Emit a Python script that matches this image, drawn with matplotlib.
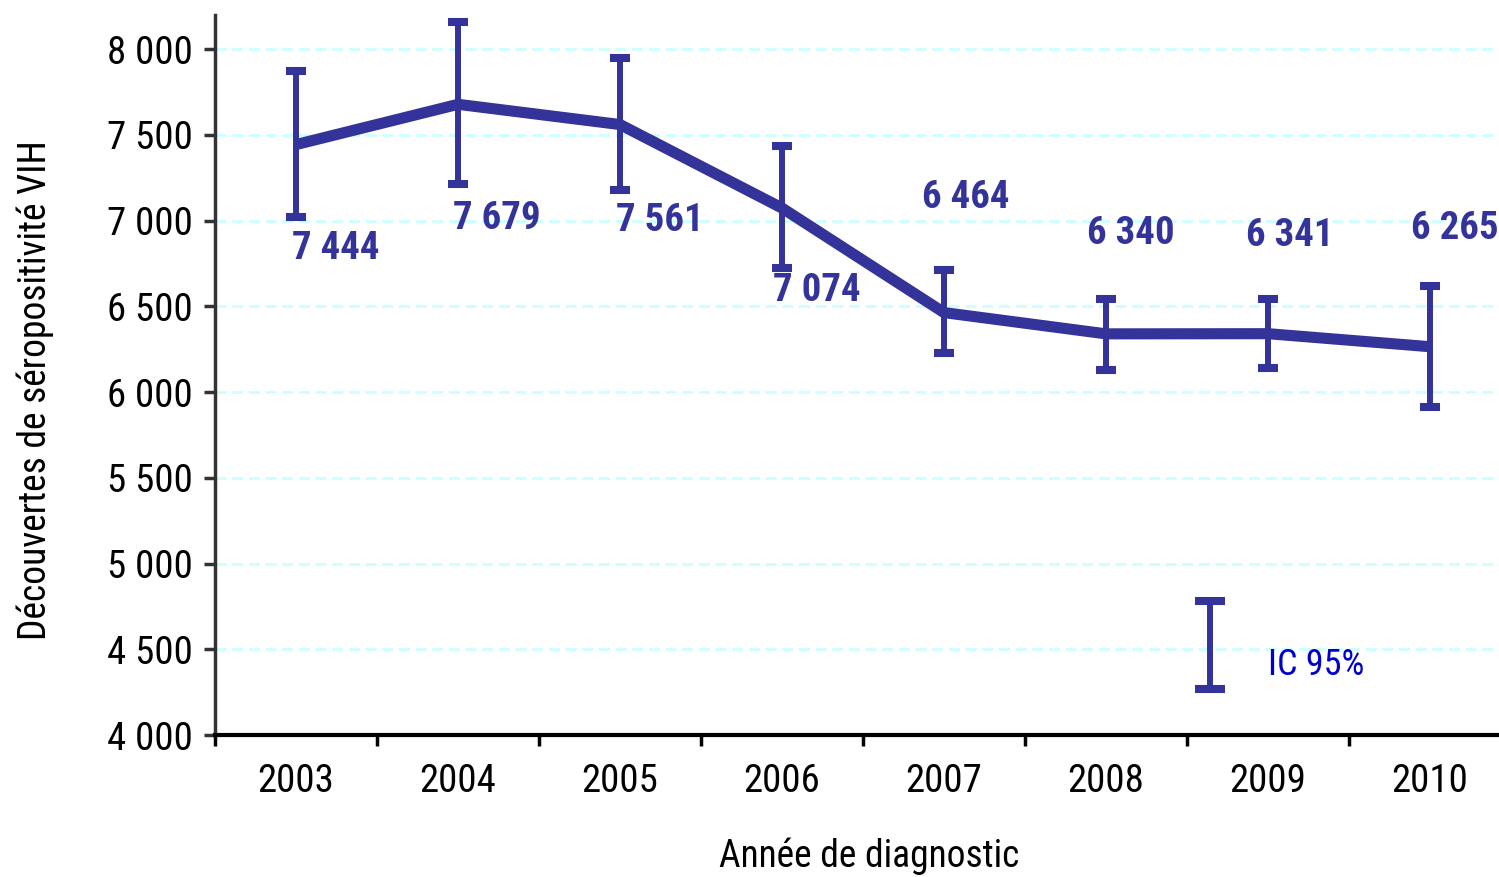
#!/usr/bin/env python3
import matplotlib
matplotlib.use("Agg")
import matplotlib.pyplot as plt
import numpy as np

plt.rcParams['font.family'] = ['Roboto Condensed', 'DejaVu Sans']

years = ["2003", "2004", "2005", "2006", "2007", "2008", "2009", "2010"]
decouvertes = [7444, 7679, 7561, 7074, 6464, 6340, 6341, 6265]
ic_bas = [7020, 7213, 7178, 6723, 6227, 6128, 6140, 5912]
ic_haut = [7872, 8157, 7948, 7434, 6711, 6542, 6542, 6618]
value_labels = ["7 444", "7 679", "7 561", "7 074", "6 464", "6 340", "6 341", "6 265"]
# label offsets in pixels from the point (dx, dy)
label_offsets = [(40, -104), (39, -114), (40, -96), (35, -82),
                 (22, 115), (25, 100), (22, 98), (25, 118)]

navy = "#333399"

fig = plt.figure(figsize=(14.99, 8.77), dpi=100)
ax = fig.add_axes([215/1499, 142/877, 1296/1499, 720/877])

x = np.arange(len(years))
y = np.array(decouvertes)
yerr = [y - np.array(ic_bas), np.array(ic_haut) - y]

ax.plot(x, y, color=navy, lw=8, solid_capstyle='butt', zorder=3)
ax.errorbar(x, y, yerr=yerr, fmt='none', ecolor=navy, elinewidth=4.3,
            capsize=7.5, capthick=5.8, zorder=4)

for xi, yi, lab, (dx, dy) in zip(x, y, value_labels, label_offsets):
    ax.annotate(lab, (xi, yi), xytext=(dx, dy), textcoords='offset pixels',
                ha='center', va='center', fontsize=28, fontweight='bold',
                color=navy, zorder=5)

# legend key for the confidence interval
ax.errorbar([5.64], [4525], yerr=[[257], [256]], fmt='none', ecolor=navy,
            elinewidth=4.3, capsize=10.5, capthick=5.8, zorder=4)
ax.text(6.0, 4408, "IC 95%", color="#0000cc", fontsize=26,
        ha='left', va='center')

ax.set_xlim(-0.5, 7.5)
ax.set_ylim(4000, 8200)
ax.set_yticks(np.arange(4000, 8001, 500))
ax.set_yticklabels(["{:,}".format(v).replace(",", " ") for v in range(4000, 8001, 500)],
                   fontsize=28)
ax.set_xticks(x)
ax.set_xticklabels(years, fontsize=28)
ax.set_xticks(np.arange(-0.5, 7.6, 1), minor=True)
ax.tick_params(axis='x', which='major', length=0, pad=20)
ax.tick_params(axis='x', which='minor', length=8, width=2.5, color='black')
ax.tick_params(axis='y', length=8, width=2.5, color='#333333', pad=8)

ax.grid(axis='y', color='#ccffff', linestyle=(0, (4, 2)), lw=2)
ax.set_axisbelow(True)

for s in ['top', 'right']:
    ax.spines[s].set_visible(False)
ax.spines['left'].set_color('#333333')
ax.spines['left'].set_linewidth(2.5)
ax.spines['bottom'].set_color('black')
ax.spines['bottom'].set_linewidth(3)

ax.set_xlabel("Année de diagnostic", fontsize=27)
ax.set_ylabel("Découvertes de séropositivité VIH", fontsize=27)
ax.xaxis.set_label_coords(0.505, -0.142)
ax.yaxis.set_label_coords(-0.124, 0.479)

fig.savefig("out.png", dpi=100)
